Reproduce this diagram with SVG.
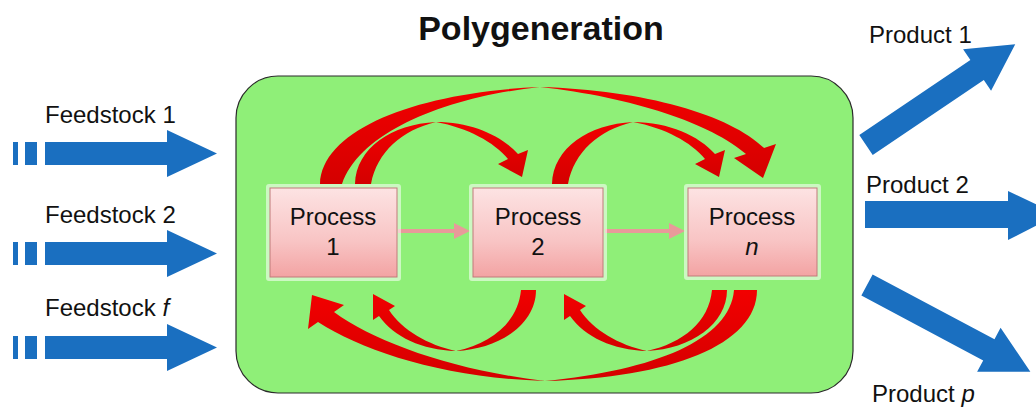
<svg xmlns="http://www.w3.org/2000/svg" width="1036" height="410" viewBox="0 0 1036 410">
<defs>
<style>
.lbl{font-family:"Liberation Sans",Arial,sans-serif;font-size:24px;fill:#111}
.title{font-family:"Liberation Sans",Arial,sans-serif;font-size:34px;font-weight:bold;fill:#111}
.blue{fill:#1a6fc0}
.red{fill:url(#redg)}
.box{fill:url(#pinkg);stroke:#c07a7a;stroke-width:1}
.halo{fill:#ffffff;opacity:0.55}
.link{stroke:#e89a9a;stroke-width:4;fill:none}
</style>
<linearGradient id="pinkg" x1="0" y1="0" x2="0" y2="1">
<stop offset="0" stop-color="#fde3e3"/>
<stop offset="0.6" stop-color="#f8c4c4"/>
<stop offset="1" stop-color="#f3a3a3"/>
</linearGradient>
<linearGradient id="redg" x1="0" y1="0" x2="0" y2="1">
<stop offset="0" stop-color="#f20000"/>
<stop offset="1" stop-color="#d40000"/>
</linearGradient>
<marker id="pinkhead" markerWidth="4" markerHeight="4" refX="3" refY="2" orient="auto" markerUnits="strokeWidth">
<path d="M0,0 L4,2 L0,4 Z" fill="#e89a9a"/>
</marker>
</defs>
<rect width="1036" height="410" fill="#ffffff"/>

<text class="title" x="541" y="40" text-anchor="middle">Polygeneration</text>

<g id="polygeneration-plant">
<rect x="236" y="76" width="617" height="317" rx="42" fill="#8fef78" stroke="#2a2a2a" stroke-width="1.2"/>
</g>

<g id="feedstocks">
<g id="feedstock-1">
<text class="lbl" x="45" y="123">Feedstock 1</text>
<rect class="blue" x="13" y="142" width="5" height="23"/>
<rect class="blue" x="25" y="142" width="12" height="23"/>
<path class="blue" d="M45,142 L167,142 L167,130 L217,153.5 L167,177 L167,165 L45,165 Z"/>
</g>
<g id="feedstock-2">
<text class="lbl" x="45" y="223">Feedstock 2</text>
<rect class="blue" x="13" y="242" width="5" height="23"/>
<rect class="blue" x="25" y="242" width="12" height="23"/>
<path class="blue" d="M45,242 L167,242 L167,230 L217,253.5 L167,277 L167,265 L45,265 Z"/>
</g>
<g id="feedstock-f">
<text class="lbl" x="45" y="316">Feedstock <tspan font-style="italic">f</tspan></text>
<rect class="blue" x="13" y="336" width="5" height="23"/>
<rect class="blue" x="25" y="336" width="12" height="23"/>
<path class="blue" d="M45,336 L167,336 L167,324 L217,347.5 L167,371 L167,359 L45,359 Z"/>
</g>
</g>

<g id="products">
<g id="product-1">
<text class="lbl" x="869" y="43">Product 1</text>
<path class="blue" transform="translate(866,145) rotate(-34)" d="M0,-12 L134,-12 L134,-25 L180,0 L134,25 L134,12 L0,12 Z"/>
</g>
<g id="product-2">
<text class="lbl" x="866" y="193">Product 2</text>
<path class="blue" d="M865,201 L1008,201 L1008,191 L1058,214.5 L1008,240 L1008,228 L865,228 Z"/>
</g>
<g id="product-p">
<text class="lbl" x="872" y="402">Product <tspan font-style="italic">p</tspan></text>
<path class="blue" transform="translate(867,285) rotate(28)" d="M0,-12 L138,-12 L138,-25 L185,0 L138,25 L138,12 L0,12 Z"/>
</g>
</g>

<g id="connectors">
<line class="link" x1="398" y1="231" x2="466" y2="231" marker-end="url(#pinkhead)"/>
<line class="link" x1="605" y1="231" x2="681" y2="231" marker-end="url(#pinkhead)"/>
<g id="arc-1-to-n">
<path class="red" d="M320,184 C322,128 420,92 540,87 C445,97 360,132 342,184 Z"/>
<path class="red" d="M540,87 C645,90 730,115 764,148 L776,144 L763,178 L734,158 L746,154 C712,124 632,97 540,87 Z"/>
</g>
<g id="arc-1-to-2">
<path class="red" d="M355,184 C356,148 392,124 436,122 C402,130 377,152 371,184 Z"/>
<path class="red" d="M436,122 C472,122 502,136 518,154 L528,150 L522,177 L498,164 L508,159 C494,142 468,128 436,122 Z"/>
</g>
<g id="arc-2-to-n" transform="translate(197,0)">
<path class="red" d="M355,184 C356,148 392,124 436,122 C402,130 377,152 371,184 Z"/>
<path class="red" d="M436,122 C472,122 502,136 518,154 L528,150 L522,177 L498,164 L508,159 C494,142 468,128 436,122 Z"/>
</g>
<g id="arc-n-to-1">
<path class="red" d="M734,290 L757,290 C757,345 670,378 545,381 C655,370 730,340 734,290 Z"/>
<path class="red" d="M545,381 C445,378 365,352 318,322 L308,329 L312,295 L344,305 L334,312 C375,342 452,370 545,381 Z"/>
</g>
<g id="arc-2-to-1">
<path class="red" d="M521,290 L536,290 C536,324 500,349 456,351 C492,343 518,322 521,290 Z"/>
<path class="red" d="M456,351 C422,350 394,337 379,316 L373,320 L373,294 L395,306 L389,310 C402,330 428,345 456,351 Z"/>
</g>
<g id="arc-n-to-2" transform="translate(191,0)">
<path class="red" d="M521,290 L536,290 C536,324 500,349 456,351 C492,343 518,322 521,290 Z"/>
<path class="red" d="M456,351 C422,350 394,337 379,316 L373,320 L373,294 L395,306 L389,310 C402,330 428,345 456,351 Z"/>
</g>
</g>

<g id="process-1">
<rect class="halo" x="266" y="184" width="135" height="97" rx="3"/>
<rect class="box" x="270" y="188" width="127" height="89"/>
<text class="lbl" x="333" y="225" text-anchor="middle">Process</text>
<text class="lbl" x="333" y="255" text-anchor="middle">1</text>
</g>
<g id="process-2">
<rect class="halo" x="469" y="184" width="138" height="97" rx="3"/>
<rect class="box" x="473" y="188" width="130" height="89"/>
<text class="lbl" x="538" y="225" text-anchor="middle">Process</text>
<text class="lbl" x="538" y="255" text-anchor="middle">2</text>
</g>
<g id="process-n">
<rect class="halo" x="684" y="184" width="137" height="96" rx="3"/>
<rect class="box" x="688" y="188" width="129" height="88"/>
<text class="lbl" x="752" y="225" text-anchor="middle">Process</text>
<text class="lbl" x="752" y="255" text-anchor="middle" font-style="italic">n</text>
</g>
</svg>
